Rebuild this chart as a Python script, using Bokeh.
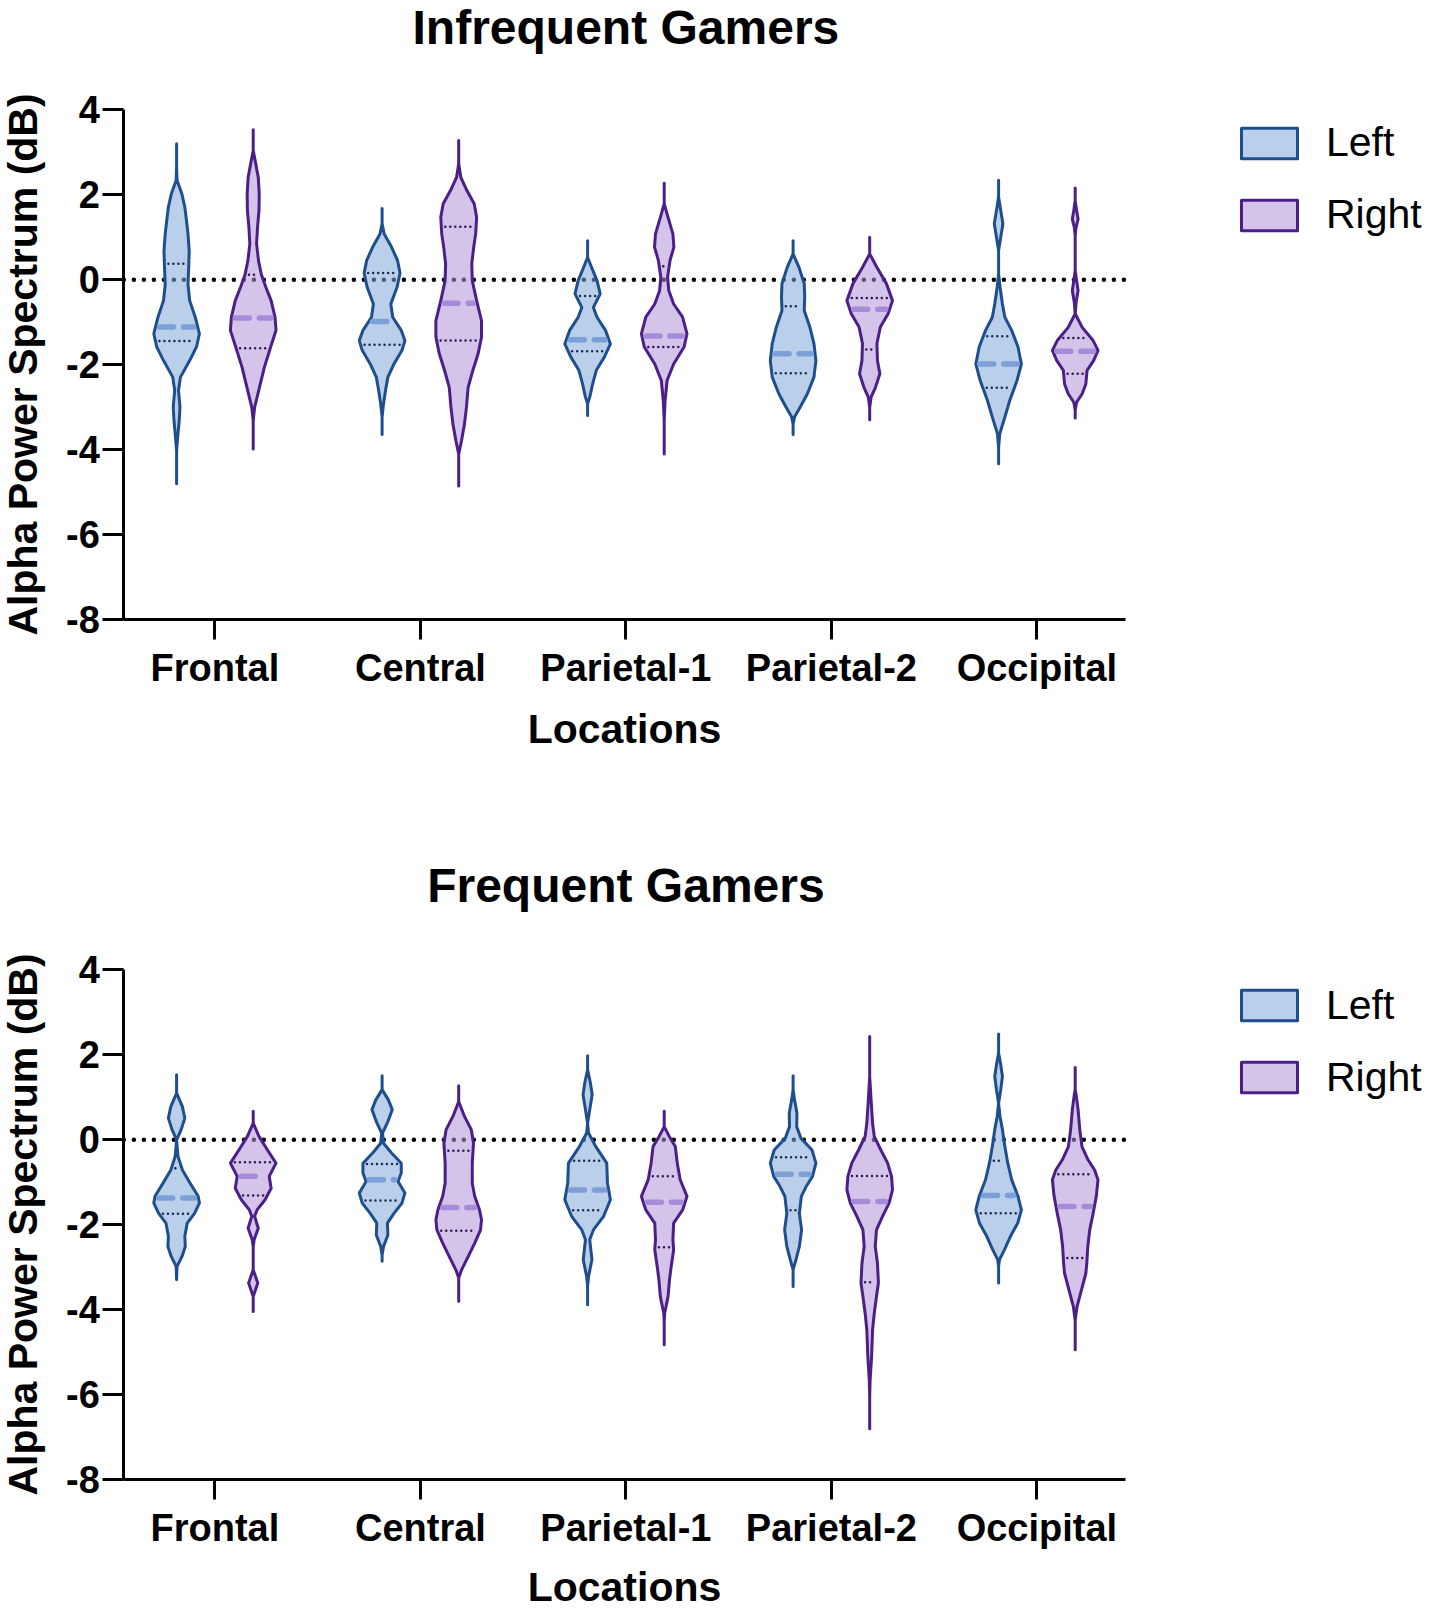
import numpy as np
from bokeh.plotting import figure
from bokeh.models import Range1d, FixedTicker, Label, Legend, LegendItem, ColumnDataSource
from bokeh.layouts import column
from bokeh.embed import file_html
from bokeh.resources import INLINE

LOCATIONS = ["Frontal", "Central", "Parietal-1", "Parietal-2", "Occipital"]
Y_TICKS = [-8, -6, -4, -2, 0, 2, 4]
Y_TICK_LABELS = ["-8", "-6", "-4", "-2", "0", "2", "4"]

# ---- Infrequent gamers: violin density profiles (value, relative width) ----
INF_L_FRONTAL = [(3.20,0),(2.65,0.03),(2.34,0.08),(2.02,0.28),(1.71,0.40),(1.39,0.47),(1.08,0.53),(0.69,0.58),(0.30,0.56),(-0.10,0.53),(-0.49,0.60),(-0.88,0.83),(-1.27,1.0),(-1.58,0.88),(-1.90,0.60),(-2.29,0.22),(-2.60,0.14),(-2.99,0.20),(-3.31,0.17),(-3.62,0.12),(-4.02,0.03),(-4.80,0)]
INF_R_FRONTAL = [(3.53,0),(3.04,0.02),(2.81,0.14),(2.41,0.27),(2.02,0.31),(1.63,0.30),(1.24,0.24),(0.85,0.20),(0.45,0.28),(0.12,0.40),(-0.17,0.58),(-0.49,0.80),(-0.88,0.96),(-1.19,1.0),(-1.58,0.78),(-2.06,0.52),(-2.53,0.32),(-3.00,0.12),(-3.31,0.03),(-3.98,0)]
INF_L_CENTRAL = [(1.68,0),(1.32,0.03),(1.08,0.15),(0.77,0.45),(0.45,0.70),(0.16,0.80),(-0.17,0.68),(-0.57,0.42),(-0.88,0.50),(-1.19,0.85),(-1.43,1.0),(-1.66,0.88),(-1.98,0.55),(-2.29,0.30),(-2.61,0.20),(-2.92,0.12),(-3.23,0.04),(-3.64,0)]
INF_R_CENTRAL = [(3.28,0),(2.73,0.03),(2.41,0.15),(2.10,0.40),(1.79,0.70),(1.47,0.80),(1.08,0.76),(0.77,0.68),(0.38,0.60),(-0.02,0.62),(-0.49,0.80),(-0.96,1.0),(-1.35,1.0),(-1.74,0.86),(-2.14,0.64),(-2.53,0.45),(-3.00,0.38),(-3.39,0.30),(-3.78,0.18),(-4.10,0.06),(-4.85,0)]
INF_L_PAR1 = [(0.92,0),(0.53,0.03),(0.30,0.22),(-0.02,0.45),(-0.33,0.58),(-0.65,0.30),(-0.88,0.45),(-1.19,0.80),(-1.51,1.0),(-1.82,0.75),(-2.13,0.42),(-2.45,0.27),(-2.76,0.15),(-2.92,0.04),(-3.19,0)]
INF_R_PAR1 = [(2.27,0),(1.79,0.03),(1.47,0.22),(1.08,0.42),(0.77,0.46),(0.45,0.30),(0.06,0.20),(-0.25,0.25),(-0.57,0.45),(-0.88,0.82),(-1.27,1.0),(-1.58,0.88),(-1.98,0.45),(-2.37,0.18),(-2.84,0.10),(-3.31,0.06),(-3.62,0.03),(-4.10,0)]
INF_L_PAR2 = [(0.92,0),(0.61,0.03),(0.30,0.30),(-0.09,0.52),(-0.41,0.54),(-0.72,0.52),(-1.11,0.75),(-1.50,0.92),(-1.90,1.0),(-2.29,0.92),(-2.68,0.65),(-3.00,0.35),(-3.23,0.12),(-3.39,0.03),(-3.64,0)]
INF_R_PAR2 = [(1.00,0),(0.61,0.04),(0.30,0.35),(-0.09,0.75),(-0.49,1.0),(-0.80,0.82),(-1.11,0.50),(-1.50,0.36),(-1.90,0.38),(-2.21,0.48),(-2.53,0.30),(-2.76,0.12),(-3.00,0.03),(-3.29,0)]
INF_L_OCC = [(2.34,0),(1.95,0.03),(1.63,0.15),(1.32,0.24),(1.00,0.15),(0.69,0.04),(0.14,0.04),(-0.17,0.12),(-0.57,0.22),(-0.88,0.32),(-1.19,0.60),(-1.58,0.86),(-1.98,1.0),(-2.37,0.82),(-2.84,0.52),(-3.23,0.32),(-3.62,0.11),(-3.94,0.03),(-4.33,0)]
INF_R_OCC = [(2.16,0),(1.86,0.03),(1.63,0.12),(1.43,0.18),(1.24,0.10),(1.04,0.03),(0.22,0.03),(-0.02,0.12),(-0.25,0.18),(-0.53,0.10),(-0.80,0.05),(-1.12,0.35),(-1.43,0.80),(-1.66,1.0),(-1.90,0.82),(-2.13,0.55),(-2.45,0.50),(-2.68,0.35),(-2.88,0.12),(-3.07,0.03),(-3.25,0)]

INF_L_MEDIAN = [-1.11, -0.98, -1.41, -1.74, -1.98]
INF_L_Q1 = [-1.44, -1.53, -1.68, -2.20, -2.54]
INF_L_Q3 = [0.38, 0.16, -0.38, -0.62, -1.33]
INF_R_MEDIAN = [-0.90, -0.55, -1.32, -0.69, -1.68]
INF_R_Q1 = [-1.61, -1.43, -1.58, -1.64, -2.21]
INF_R_Q3 = [0.12, 1.25, 0.32, -0.43, -1.37]

# ---- Frequent gamers ----
FRQ_L_FRONTAL = [(1.53,0),(1.10,0.04),(0.78,0.30),(0.51,0.40),(0.24,0.25),(0.0,0.05),(-0.39,0.12),(-0.71,0.30),(-1.02,0.62),(-1.33,0.95),(-1.49,1.0),(-1.73,0.80),(-1.96,0.50),(-2.27,0.40),(-2.51,0.42),(-2.75,0.28),(-2.98,0.08),(-3.29,0)]
FRQ_R_FRONTAL = [(0.67,0),(0.39,0.04),(0.08,0.30),(-0.24,0.65),(-0.55,1.0),(-0.86,0.72),(-1.14,0.80),(-1.41,0.55),(-1.65,0.22),(-1.80,0.12),(-2.08,0.27),(-2.35,0.10),(-2.51,0.03),(-3.06,0.04),(-3.37,0.25),(-3.69,0.04),(-4.04,0)]
FRQ_L_CENTRAL = [(1.51,0),(1.18,0.05),(0.94,0.32),(0.71,0.48),(0.43,0.30),(0.16,0.08),(-0.08,0.12),(-0.31,0.45),(-0.55,0.85),(-0.78,0.85),(-0.98,0.72),(-1.25,1.0),(-1.49,0.88),(-1.73,0.55),(-1.96,0.28),(-2.24,0.30),(-2.51,0.12),(-2.71,0.03),(-2.86,0)]
FRQ_R_CENTRAL = [(1.27,0),(0.90,0.04),(0.55,0.30),(0.24,0.58),(-0.08,0.67),(-0.55,0.62),(-1.02,0.62),(-1.33,0.72),(-1.65,0.92),(-1.88,1.0),(-2.12,0.96),(-2.43,0.72),(-2.75,0.45),(-3.06,0.18),(-3.25,0.05),(-3.80,0)]
FRQ_L_PAR1 = [(1.98,0),(1.65,0.04),(1.33,0.18),(1.06,0.25),(0.71,0.15),(0.39,0.04),(0.16,0.10),(-0.16,0.40),(-0.55,0.85),(-1.02,0.88),(-1.41,1.0),(-1.80,0.72),(-2.12,0.30),(-2.35,0.15),(-2.82,0.24),(-3.22,0.10),(-3.45,0.03),(-3.88,0)]
FRQ_R_PAR1 = [(0.67,0),(0.31,0.04),(0.08,0.27),(-0.16,0.52),(-0.55,0.60),(-0.94,0.72),(-1.33,1.0),(-1.65,0.82),(-1.96,0.45),(-2.35,0.42),(-2.59,0.45),(-2.98,0.35),(-3.29,0.28),(-3.69,0.22),(-4.08,0.08),(-4.31,0.02),(-4.82,0)]
FRQ_L_PAR2 = [(1.51,0),(1.18,0.04),(0.94,0.12),(0.63,0.22),(0.31,0.21),(0.04,0.38),(-0.24,0.84),(-0.55,1.0),(-0.86,0.86),(-1.10,0.60),(-1.33,0.40),(-1.73,0.32),(-2.12,0.41),(-2.51,0.32),(-2.82,0.18),(-3.06,0.06),(-3.45,0)]
FRQ_R_PAR2 = [(2.43,0),(1.80,0.03),(1.49,0.06),(1.02,0.11),(0.39,0.18),(0.08,0.25),(-0.24,0.52),(-0.55,0.80),(-0.86,0.96),(-1.18,1.0),(-1.49,0.86),(-1.80,0.59),(-2.12,0.34),(-2.51,0.29),(-2.90,0.38),(-3.37,0.42),(-3.69,0.34),(-4.08,0.25),(-4.47,0.18),(-5.10,0.14),(-5.65,0.08),(-6.04,0.04),(-6.35,0.02),(-6.80,0)]
FRQ_L_OCC = [(2.49,0),(2.04,0.04),(1.80,0.14),(1.49,0.22),(1.18,0.15),(0.86,0.05),(0.55,0.12),(0.24,0.22),(-0.16,0.32),(-0.55,0.44),(-0.94,0.60),(-1.33,0.86),(-1.65,1.0),(-1.96,0.85),(-2.27,0.55),(-2.59,0.30),(-2.82,0.10),(-2.98,0.03),(-3.37,0)]
FRQ_R_OCC = [(1.70,0),(1.18,0.04),(1.02,0.11),(0.71,0.18),(0.24,0.25),(-0.16,0.34),(-0.47,0.59),(-0.71,0.86),(-0.94,1.0),(-1.33,0.93),(-1.73,0.80),(-2.12,0.66),(-2.51,0.58),(-2.90,0.54),(-3.14,0.50),(-3.53,0.32),(-3.92,0.14),(-4.24,0.04),(-4.94,0)]

FRQ_L_MEDIAN = [-1.37, -0.94, -1.18, -0.81, -1.31]
FRQ_L_Q1 = [-1.74, -1.43, -1.66, -1.66, -1.73]
FRQ_L_Q3 = [-0.67, -0.57, -0.49, -0.41, -0.49]
FRQ_R_MEDIAN = [-0.86, -1.59, -1.47, -1.45, -1.57]
FRQ_R_Q1 = [-1.31, -2.14, -2.53, -3.35, -2.78]
FRQ_R_Q3 = [-0.53, -0.26, -0.86, -0.85, -0.81]

# ---- layout / styling (page pixels) ----
FONT = "Liberation Sans"
W = 1430
PX = 205.5          # pixels per category step
PY = 42.5           # pixels per dB
CAT0_PX = 214.4     # pixel x of first category
TOP4_PX = 109.3     # pixel y of the "4" tick from the top of each figure
X_START, X_END = -0.443, 4.433          # axis extent (category units)
SIDE_OFFSET = 38.3 / PX
MAX_HALF_PX = 24.3
OUTLINE_W = 3

STYLE = {
    "Left":  dict(fill="#7fa7d8", line="#1f4e8c", med="#7b9fd6", q="#1a2a55"),
    "Right": dict(fill="#b093d8", line="#4b1f87", med="#a68bd8", q="#2b1a50"),
}


def half_px(w):
    return max(w * MAX_HALF_PX - OUTLINE_W / 2, 0.0)


def violin_source(profiles, side_sign):
    xs, ys = [], []
    for i, prof in enumerate(profiles):
        c = i + side_sign * SIDE_OFFSET
        yv = [p[0] for p in prof]
        hw = [half_px(p[1]) / PX for p in prof]
        right = [c + h for h in hw]
        left = [c - h for h in hw]
        xs.append(right + left[::-1])
        ys.append(yv + yv[::-1])
    return ColumnDataSource(dict(xs=xs, ys=ys))


def stat_source(profiles, values, side_sign, shrink_px):
    x0, x1, y = [], [], []
    for i, (prof, v) in enumerate(zip(profiles, values)):
        c = i + side_sign * SIDE_OFFSET
        yv = np.array([p[0] for p in prof])[::-1]
        hv = np.array([half_px(p[1]) for p in prof])[::-1]
        h = max(np.interp(v, yv, hv) - OUTLINE_W / 2 - shrink_px, 0.5) / PX
        x0.append(c - h)
        x1.append(c + h)
        y.append(v)
    return ColumnDataSource(dict(x0=x0, x1=x1, y=y))


def make_panel(title, left_profiles, right_profiles, l_stats, r_stats, height,
               legend_top, title_base, xlabel_standoff):
    x_lo = -CAT0_PX / PX
    x_hi = (W - CAT0_PX) / PX
    y_hi = 4 + TOP4_PX / PY
    y_lo = 4 - (height - TOP4_PX) / PY
    p = figure(width=W, height=height, output_backend="svg", toolbar_location=None,
               x_range=Range1d(x_lo, x_hi), y_range=Range1d(y_lo, y_hi), min_border=0)
    p.outline_line_color = None
    p.grid.visible = False
    p.background_fill_color = "white"
    p.border_fill_color = "white"

    for ax in (p.xaxis[0], p.yaxis[0]):
        ax.axis_line_width = 3
        ax.axis_line_color = "black"
        ax.major_tick_line_width = 3
        ax.major_tick_line_color = "black"
        ax.major_tick_in = 0
        ax.minor_tick_line_color = None
        ax.major_label_text_font = FONT
        ax.major_label_text_font_style = "bold"
        ax.major_label_text_font_size = "38px"
        ax.major_label_text_color = "black"
        ax.axis_label_text_font = FONT
        ax.axis_label_text_font_style = "bold"
        ax.axis_label_text_font_size = "41px"
        ax.axis_label_text_color = "black"
    xa, ya = p.xaxis[0], p.yaxis[0]
    xa.fixed_location = -8
    xa.bounds = (X_START, X_END)
    xa.ticker = FixedTicker(ticks=list(range(len(LOCATIONS))))
    xa.major_label_overrides = {i: name for i, name in enumerate(LOCATIONS)}
    xa.major_tick_out = 20
    xa.major_label_standoff = 7
    xa.axis_label = "Locations"
    xa.axis_label_standoff = xlabel_standoff
    ya.fixed_location = X_START
    ya.bounds = (-8, 4)
    ya.ticker = FixedTicker(ticks=Y_TICKS)
    ya.major_label_overrides = {t: s for t, s in zip(Y_TICKS, Y_TICK_LABELS)}
    ya.major_tick_out = 21
    ya.major_label_standoff = 3
    ya.axis_label = "Alpha Power Spectrum (dB)"
    ya.axis_label_standoff = 17

    # zero reference line across the axis extent
    p.segment(x0=[X_START], y0=[0], x1=[X_END], y1=[0], line_color="black",
              line_width=4.5, line_dash="0 10", line_cap="round", level="underlay")

    renderers = {}
    for side, profs, sign, stats in (("Left", left_profiles, -1, l_stats),
                                     ("Right", right_profiles, 1, r_stats)):
        st = STYLE[side]
        r = p.patches("xs", "ys", source=violin_source(profs, sign),
                      fill_color=st["fill"], fill_alpha=0.55,
                      line_color=st["line"], line_width=OUTLINE_W, line_join="round")
        renderers[side] = r
        med, q1, q3 = stats
        for vals, color, width, dash, shrink in ((q1, st["q"], 2.5, "0 5", 2.5),
                                                 (q3, st["q"], 2.5, "0 5", 2.5),
                                                 (med, st["med"], 5.5, "14 10", 2.5)):
            src = stat_source(profs, vals, sign, shrink)
            p.segment("x0", "y", "x1", "y", source=src, line_color=color,
                      line_width=width, line_dash=dash, line_cap="round")

    legend = Legend(items=[LegendItem(label="Left", renderers=[renderers["Left"]]),
                           LegendItem(label="Right", renderers=[renderers["Right"]])],
                    location=(1234, height - legend_top - 117), orientation="vertical",
                    glyph_width=70, glyph_height=38, label_standoff=22, spacing=25,
                    padding=0, margin=0, border_line_color=None, background_fill_alpha=0,
                    label_text_font=FONT, label_text_font_size="41px",
                    label_text_color="black", label_height=30)
    p.add_layout(legend)

    p.add_layout(Label(x=2.0, y=4 + (TOP4_PX - title_base) / PY, text=title, text_font=FONT,
                       text_font_size="48px", text_font_style="bold", text_color="black",
                       text_align="center", text_baseline="alphabetic"))
    return p


inf_left = [INF_L_FRONTAL, INF_L_CENTRAL, INF_L_PAR1, INF_L_PAR2, INF_L_OCC]
inf_right = [INF_R_FRONTAL, INF_R_CENTRAL, INF_R_PAR1, INF_R_PAR2, INF_R_OCC]
frq_left = [FRQ_L_FRONTAL, FRQ_L_CENTRAL, FRQ_L_PAR1, FRQ_L_PAR2, FRQ_L_OCC]
frq_right = [FRQ_R_FRONTAL, FRQ_R_CENTRAL, FRQ_R_PAR1, FRQ_R_PAR2, FRQ_R_OCC]

top = make_panel("Infrequent Gamers", inf_left, inf_right,
                 (INF_L_MEDIAN, INF_L_Q1, INF_L_Q3), (INF_R_MEDIAN, INF_R_Q1, INF_R_Q3),
                 height=860, legend_top=121, title_base=26.5, xlabel_standoff=14)
bottom = make_panel("Frequent Gamers", frq_left, frq_right,
                    (FRQ_L_MEDIAN, FRQ_L_Q1, FRQ_L_Q3), (FRQ_R_MEDIAN, FRQ_R_Q1, FRQ_R_Q3),
                    height=750, legend_top=123.5, title_base=24.5, xlabel_standoff=12)

layout = column(top, bottom, spacing=0)
open("out.html", "w").write(file_html(layout, INLINE))
